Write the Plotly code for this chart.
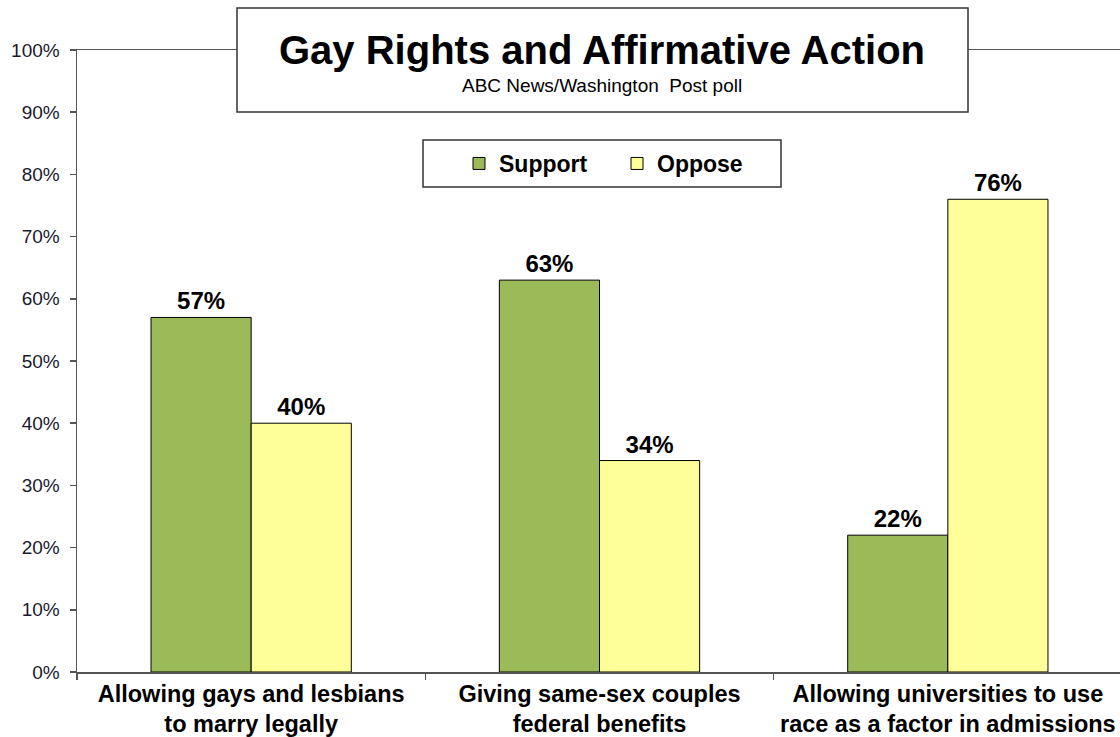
import plotly.graph_objects as go

categories = ["Allowing gays and lesbians<br>to marry legally",
              "Giving same-sex couples<br>federal benefits",
              "Allowing universities to use<br>race as a factor in admissions"]
support = [57, 63, 22]
oppose = [40, 34, 76]
tick_vals = [0, 10, 20, 30, 40, 50, 60, 70, 80, 90, 100]
tick_text = [f"{v}%" for v in tick_vals]

FONT = "Liberation Sans, Arial, sans-serif"

fig = go.Figure()
fig.add_trace(go.Bar(
    name="Support", x=categories, y=support,
    marker=dict(color="#9BBB59", line=dict(color="#000000", width=1)),
    text=[f"{v}%" for v in support], textposition="outside",
    textfont=dict(family=FONT, size=24, color="#000000"),
    texttemplate="<b>%{text}</b>", cliponaxis=False,
))
fig.add_trace(go.Bar(
    name="Oppose", x=categories, y=oppose,
    marker=dict(color="#FFFF99", line=dict(color="#000000", width=1)),
    text=[f"{v}%" for v in oppose], textposition="outside",
    textfont=dict(family=FONT, size=24, color="#000000"),
    texttemplate="<b>%{text}</b>", cliponaxis=False,
))

W, H = 1120, 737
L, T, B = 77, 50, 65
pw = W - L
ph = H - T - B

def px_x(sx):
    return (sx - L) / pw

def px_y(sy):
    return (H - B - sy) / ph

fig.update_layout(
    width=W, height=H,
    margin=dict(l=L, r=0, t=T, b=B, pad=0),
    paper_bgcolor="white", plot_bgcolor="white",
    barmode="group", bargap=0.425, bargroupgap=0,
    font=dict(family=FONT, color="#000000"),
    showlegend=True,
    legend=dict(
        orientation="h", x=px_x(459), y=px_y(163.5),
        xanchor="left", yanchor="middle",
        font=dict(family=FONT, size=23, color="#000000", weight="bold"),
        bgcolor="rgba(0,0,0,0)", borderwidth=0,
        entrywidth=113, entrywidthmode="pixels",
    ),
    xaxis=dict(
        type="category",
        range=[-0.5, 2.5 - 2 / 348],
        showline=True, linecolor="#555555", linewidth=1.5,
        mirror=True,
        ticks="outside", ticklen=6, tickcolor="#555555", tickwidth=1.5,
        tickson="boundaries",
        tickfont=dict(family=FONT, size=23.5, color="#000000", weight="bold"),
        showgrid=False, zeroline=False,
    ),
    yaxis=dict(
        range=[0, 100],
        tickvals=tick_vals, ticktext=tick_text,
        showline=True, linecolor="#555555", linewidth=1.5,
        ticks="outside", ticklen=6, tickcolor="#555555", tickwidth=1.5,
        ticklabelstandoff=6,
        tickfont=dict(family=FONT, size=19, color="#1a1a2e"),
        showgrid=False, zeroline=False,
    ),
    shapes=[
        dict(type="rect", xref="paper", yref="paper",
             x0=px_x(237), x1=px_x(968), y0=px_y(112), y1=px_y(8),
             fillcolor="white", line=dict(color="#333333", width=1.5), layer="above"),
        dict(type="rect", xref="paper", yref="paper",
             x0=px_x(423), x1=px_x(781), y0=px_y(187), y1=px_y(140),
             fillcolor="white", line=dict(color="#333333", width=1.5), layer="below"),
    ],
    annotations=[
        dict(text="<b>Gay Rights and Affirmative Action</b>", xref="paper", yref="paper",
             x=px_x(602), y=px_y(50), xanchor="center", yanchor="middle",
             showarrow=False, font=dict(family=FONT, size=40, color="#000000")),
        dict(text="ABC News/Washington  Post poll", xref="paper", yref="paper",
             x=px_x(602), y=px_y(85), xanchor="center", yanchor="middle",
             showarrow=False, font=dict(family=FONT, size=19, color="#000000")),
    ],
)

fig.write_html(
    "out.html",
    config={"displayModeBar": False, "staticPlot": True},
    post_script="document.body.style.margin='0';document.body.style.overflow='hidden';",
)
